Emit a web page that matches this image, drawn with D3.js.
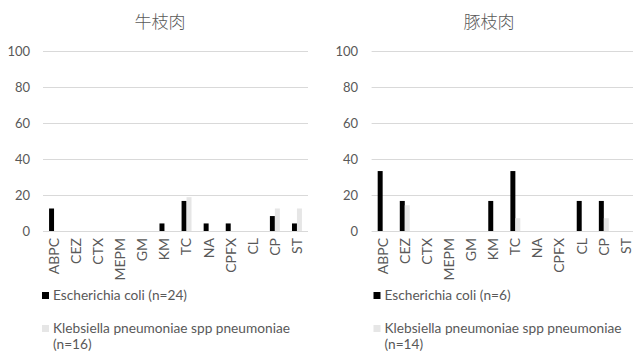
<!DOCTYPE html>
<html>
<head>
<meta charset="utf-8">
<script src="https://cdn.jsdelivr.net/npm/d3@7"></script>
<style>
  html, body { margin: 0; padding: 0; background: #fff; }
  svg { display: block; }
  text { font-family: Lato, "Liberation Sans", sans-serif; fill: #595959; }
  .title { font-family: "Noto Sans CJK JP", sans-serif; font-weight: 300; }
</style>
</head>
<body>
<svg id="chart" width="633" height="351"></svg>
<script>
// Antibiotic categories shown on both panels
const drugs = ["ABPC", "CEZ", "CTX", "MEPM", "GM", "KM", "TC", "NA", "CPFX", "CL", "CP", "ST"];
const yTicks = [0, 20, 40, 60, 80, 100];

// 牛枝肉 — resistance rate (%)
const beefTitle = "牛枝肉";
const beefEcoli = [12.5, 0, 0, 0, 0, 4.2, 16.7, 4.2, 4.2, 0, 8.3, 4.2];
const beefKleb  = [0, 0, 0, 0, 0, 0, 18.8, 0, 0, 0, 12.5, 12.5];
const beefLegend = ["Escherichia coli (n=24)", "Klebsiella pneumoniae spp pneumoniae", "(n=16)"];

// 豚枝肉 — resistance rate (%)
const porkTitle = "豚枝肉";
const porkEcoli = [33.3, 16.7, 0, 0, 0, 16.7, 33.3, 0, 0, 16.7, 16.7, 0];
const porkKleb  = [0, 14.3, 0, 0, 0, 0, 7.1, 0, 0, 0, 7.1, 0];
const porkLegend = ["Escherichia coli (n=6)", "Klebsiella pneumoniae spp pneumoniae", "(n=14)"];

const seriesColors = ["#000000", "#e6e6e6"];

const svg = d3.select("#chart");

function drawPanel(opt) {
  const g = svg.append("g");
  const x = d3.scaleBand().domain(drugs).range([opt.left, opt.right]).paddingInner(0.55).paddingOuter(0.275);
  const xs = d3.scaleBand().domain([0, 1]).range([0, x.bandwidth()]);
  const y = d3.scaleLinear().domain([0, 100]).range([231, 51]);

  // title
  g.append("text").attr("class", "title")
    .attr("x", opt.titleX).attr("y", 28)
    .attr("text-anchor", "middle").attr("font-size", 17)
    .text(opt.title);

  // horizontal gridlines
  const yAxis = d3.axisLeft(y).tickValues(yTicks).tickSize(-(opt.gridRight - opt.left)).tickPadding(opt.left - opt.labelX);
  const ya = g.append("g").attr("transform", `translate(${opt.left},0)`).call(yAxis);
  ya.select(".domain").remove();
  ya.selectAll(".tick line").attr("stroke", "#d9d9d9").attr("stroke-width", 1);
  ya.selectAll(".tick text").attr("font-size", 13).attr("fill", "#595959")
    .style("font-family", "Lato, 'Liberation Sans', sans-serif");

  // bars
  const series = [opt.ecoli, opt.kleb];
  series.forEach((vals, si) => {
    g.append("g").selectAll("rect").data(drugs.map((d, i) => ({ d, v: vals[i] })).filter(e => e.v > 0))
      .join("rect")
      .attr("x", e => x(e.d) + xs(si))
      .attr("width", xs.bandwidth())
      .attr("y", e => y(e.v))
      .attr("height", e => y(0) - y(e.v))
      .attr("fill", seriesColors[si]);
  });

  // category labels, rotated
  const xAxis = d3.axisBottom(x).tickSize(0).tickPadding(0);
  const xa = g.append("g").attr("transform", `translate(0,${y(0)})`).call(xAxis);
  xa.select(".domain").remove();
  xa.selectAll(".tick text")
    .attr("font-size", 14).attr("fill", "#595959")
    .style("font-family", "Lato, 'Liberation Sans', sans-serif")
    .attr("text-anchor", "end")
    .attr("transform", "translate(0,7) rotate(-90)")
    .attr("x", 0).attr("y", 0).attr("dy", "0.35em");

  // legend
  const lg = g.append("g");
  const lx = opt.legendX;
  const fs = 13.7;
  lg.append("rect").attr("x", lx).attr("y", 292).attr("width", 7).attr("height", 7).attr("fill", seriesColors[0]);
  lg.append("text").attr("x", lx + 11).attr("y", 300).attr("font-size", fs).text(opt.legend[0]);
  lg.append("rect").attr("x", lx).attr("y", 325).attr("width", 7).attr("height", 7).attr("fill", seriesColors[1]);
  lg.append("text").attr("x", lx + 11).attr("y", 333).attr("font-size", fs).text(opt.legend[1]);
  lg.append("text").attr("x", lx + 11).attr("y", 349).attr("font-size", fs).text(opt.legend[2]);
}

drawPanel({ title: beefTitle, titleX: 160, left: 43, right: 308, gridRight: 308, labelX: 30,
  ecoli: beefEcoli, kleb: beefKleb, legend: beefLegend, legendX: 42 });
drawPanel({ title: porkTitle, titleX: 489, left: 371.6, right: 637, gridRight: 637, labelX: 358,
  ecoli: porkEcoli, kleb: porkKleb, legend: porkLegend, legendX: 373.5 });
</script>
</body>
</html>
